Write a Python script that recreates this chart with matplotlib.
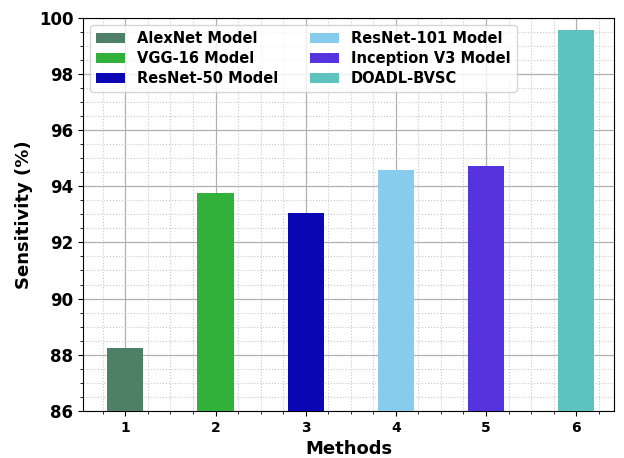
import matplotlib
matplotlib.use("Agg")
import matplotlib.pyplot as plt
from matplotlib.ticker import AutoMinorLocator

methods = [1, 2, 3, 4, 5, 6]
labels = ["AlexNet Model", "VGG-16 Model", "ResNet-50 Model",
          "ResNet-101 Model", "Inception V3 Model", "DOADL-BVSC"]
sensitivity = [88.25, 93.77, 93.05, 94.59, 94.73, 99.57]
colors = ["#4e8066", "#31b03a", "#0c07b4", "#87ccec", "#5533dd", "#5ec2be"]

fig = plt.figure(figsize=(6.24, 4.58), dpi=100)
ax = fig.add_axes([0.133, 0.103, 0.851, 0.858])

for m, v, c, lab in zip(methods, sensitivity, colors, labels):
    ax.bar(m, v, width=0.4, color=c, label=lab, zorder=3)

ax.set_ylim(86, 100)
ax.set_xlim(0.53, 6.42)
ax.set_xticks(methods)
ax.xaxis.set_minor_locator(AutoMinorLocator(4))
ax.yaxis.set_minor_locator(AutoMinorLocator(4))
ax.grid(which="major", color="#b0b0b0", linestyle="-", linewidth=0.9, zorder=0)
ax.grid(which="minor", color="#c8c8c8", linestyle=":", linewidth=0.8, zorder=0)

for t in ax.get_xticklabels():
    t.set_fontweight("bold")
    t.set_fontsize(10)
for t in ax.get_yticklabels():
    t.set_fontweight("bold")
    t.set_fontsize(12)

ax.set_xlabel("Methods", fontsize=13, fontweight="bold")
ax.set_ylabel("Sensitivity (%)", fontsize=13, fontweight="bold")

ax.legend(loc="upper left", ncol=2, prop={"weight": "bold", "size": 10.5},
          handlelength=2.0, columnspacing=2.2, borderpad=0.4,
          labelspacing=0.35)

fig.savefig("out.png", dpi=100)
